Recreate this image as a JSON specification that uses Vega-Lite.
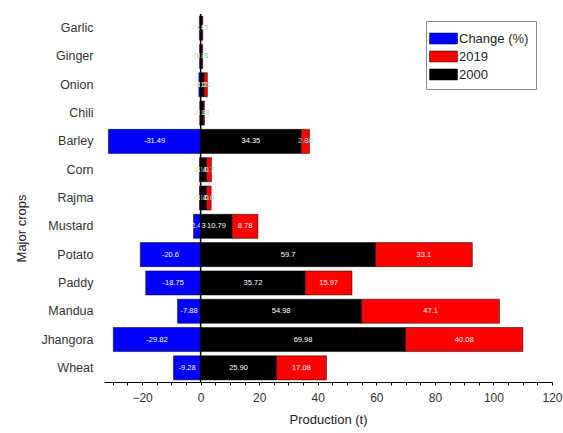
{
  "$schema": "https://vega.github.io/schema/vega-lite/v6.json",
  "width": 448,
  "height": 368,
  "autosize": {"type": "none"},
  "padding": {"left": 104, "top": 14, "right": 11, "bottom": 51},
  "background": "white",
  "config": {"view": {"stroke": null}, "font": "Liberation Sans"},
  "data": {
    "values": [
      {"crop": "Garlic", "series": "Change (%)", "value": -0.42, "label": "-0.42"},
      {"crop": "Garlic", "series": "2000", "value": 0.45, "label": "0.45"},
      {"crop": "Garlic", "series": "2019", "value": 0.3, "label": "0.3"},
      {"crop": "Ginger", "series": "Change (%)", "value": -0.35, "label": "-0.35"},
      {"crop": "Ginger", "series": "2000", "value": 0.4, "label": "0.4"},
      {"crop": "Ginger", "series": "2019", "value": 0.3, "label": "0.3"},
      {"crop": "Onion", "series": "Change (%)", "value": -0.6, "label": "-0.6"},
      {"crop": "Onion", "series": "2000", "value": 1.2, "label": "1.2"},
      {"crop": "Onion", "series": "2019", "value": 1.1, "label": "1.1"},
      {"crop": "Chili", "series": "Change (%)", "value": -0.3, "label": "-0.3"},
      {"crop": "Chili", "series": "2000", "value": 1.0, "label": "1.0"},
      {"crop": "Chili", "series": "2019", "value": 0.3, "label": "0.3"},
      {"crop": "Barley", "series": "Change (%)", "value": -31.49, "label": "-31.49"},
      {"crop": "Barley", "series": "2000", "value": 34.35, "label": "34.35"},
      {"crop": "Barley", "series": "2019", "value": 2.86, "label": "2.86"},
      {"crop": "Corn", "series": "Change (%)", "value": -0.4, "label": "-0.4"},
      {"crop": "Corn", "series": "2000", "value": 2.0, "label": "2.0"},
      {"crop": "Corn", "series": "2019", "value": 1.7, "label": "1.7"},
      {"crop": "Rajma", "series": "Change (%)", "value": -0.4, "label": "-0.4"},
      {"crop": "Rajma", "series": "2000", "value": 2.0, "label": "2.0"},
      {"crop": "Rajma", "series": "2019", "value": 1.6, "label": "1.6"},
      {"crop": "Mustard", "series": "Change (%)", "value": -2.43, "label": "-2.43"},
      {"crop": "Mustard", "series": "2000", "value": 10.79, "label": "10.79"},
      {"crop": "Mustard", "series": "2019", "value": 8.78, "label": "8.78"},
      {"crop": "Potato", "series": "Change (%)", "value": -20.6, "label": "-20.6"},
      {"crop": "Potato", "series": "2000", "value": 59.7, "label": "59.7"},
      {"crop": "Potato", "series": "2019", "value": 33.1, "label": "33.1"},
      {"crop": "Paddy", "series": "Change (%)", "value": -18.75, "label": "-18.75"},
      {"crop": "Paddy", "series": "2000", "value": 35.72, "label": "35.72"},
      {"crop": "Paddy", "series": "2019", "value": 15.97, "label": "15.97"},
      {"crop": "Mandua", "series": "Change (%)", "value": -7.88, "label": "-7.88"},
      {"crop": "Mandua", "series": "2000", "value": 54.98, "label": "54.98"},
      {"crop": "Mandua", "series": "2019", "value": 47.1, "label": "47.1"},
      {"crop": "Jhangora", "series": "Change (%)", "value": -29.82, "label": "-29.82"},
      {"crop": "Jhangora", "series": "2000", "value": 69.98, "label": "69.98"},
      {"crop": "Jhangora", "series": "2019", "value": 40.08, "label": "40.08"},
      {"crop": "Wheat", "series": "Change (%)", "value": -9.28, "label": "-9.28"},
      {"crop": "Wheat", "series": "2000", "value": 25.9, "label": "25.90"},
      {"crop": "Wheat", "series": "2019", "value": 17.08, "label": "17.08"}
    ]
  },
  "encoding": {
    "y": {
      "field": "crop", "type": "nominal",
      "sort": ["Garlic", "Ginger", "Onion", "Chili", "Barley", "Corn", "Rajma", "Mustard", "Potato", "Paddy", "Mandua", "Jhangora", "Wheat"],
      "scale": {"paddingInner": 0.15, "paddingOuter": 0.075},
      "axis": {
        "title": "Major crops", "domain": false, "ticks": false, "labelPadding": 11,
        "labelFontSize": 12.5, "labelColor": "#333", "titleFontSize": 13, "titleFontWeight": "normal", "titleColor": "#222",
        "titleX": -83, "titleY": 214, "titleAlign": "center", "titleBaseline": "middle", "titleAngle": -90
      }
    },
    "x": {
      "type": "quantitative",
      "scale": {"domain": [-33, 120], "nice": false, "zero": false},
      "axis": {
        "title": "Production (t)", "values": [-30, -25, -20, -15, -10, -5, 0, 5, 10, 15, 20, 25, 30, 35, 40, 45, 50, 55, 60, 65, 70, 75, 80, 85, 90, 95, 100, 105, 110, 115, 120],
        "labelExpr": "datum.value % 20 == 0 ? datum.label : ''",
        "labelOverlap": false, "labelBound": false, "labelFlush": false,
        "grid": false, "domainColor": "#000", "tickColor": "#000", "tickSize": 3,
        "labelFontSize": 12, "labelColor": "#333", "labelPadding": 7,
        "titleFontSize": 13, "titleFontWeight": "normal", "titleColor": "#222", "titlePadding": 10
      }
    }
  },
  "layer": [
    {
      "transform": [
        {"stack": "value", "groupby": ["crop"], "sort": [{"field": "series", "order": "ascending"}], "as": ["v0", "v1"]}
      ],
      "mark": {"type": "bar", "stroke": "#000", "strokeWidth": 0.5},
      "encoding": {
        "x": {"field": "v0"},
        "x2": {"field": "v1"},
        "color": {
          "field": "series", "type": "nominal",
          "scale": {"domain": ["Change (%)", "2019", "2000"], "range": ["#0000ff", "#ff0000", "#000000"]},
          "legend": {
            "title": null, "orient": "none", "legendX": 322, "legendY": 7,
            "strokeColor": "#888", "fillColor": "white", "padding": 7,
            "symbolType": "M-1.4,-0.55H1.4V0.55H-1.4Z", "symbolSize": 400, "symbolStrokeColor": "#000", "symbolStrokeWidth": 0.5,
            "symbolOpacity": 1, "rowPadding": -1, "labelFontSize": 13, "labelColor": "#222", "labelOffset": 5
          }
        }
      }
    },
    {
      "transform": [
        {"stack": "value", "groupby": ["crop"], "sort": [{"field": "series", "order": "ascending"}], "as": ["v0", "v1"]},
        {"calculate": "(datum.v0 + datum.v1) / 2", "as": "mid"}
      ],
      "mark": {"type": "text", "fontSize": 7.5, "align": "center", "baseline": "middle"},
      "encoding": {
        "x": {"field": "mid"},
        "text": {"field": "label"},
        "color": {
          "condition": [
            {"test": "datum.series == 'Change (%)' && abs(datum.value) < 2", "value": "#d9e06e"},
            {"test": "datum.series == '2019' && datum.value < 3", "value": "#7fe2e6"}
          ],
          "value": "#ffffff"
        }
      }
    },
    {
      "transform": [{"filter": "datum.crop == 'Garlic' && datum.series == '2000'"}],
      "mark": {"type": "rule", "color": "#000", "strokeWidth": 1.5},
      "encoding": {"x": {"datum": 0}, "y": null}
    }
  ]
}
